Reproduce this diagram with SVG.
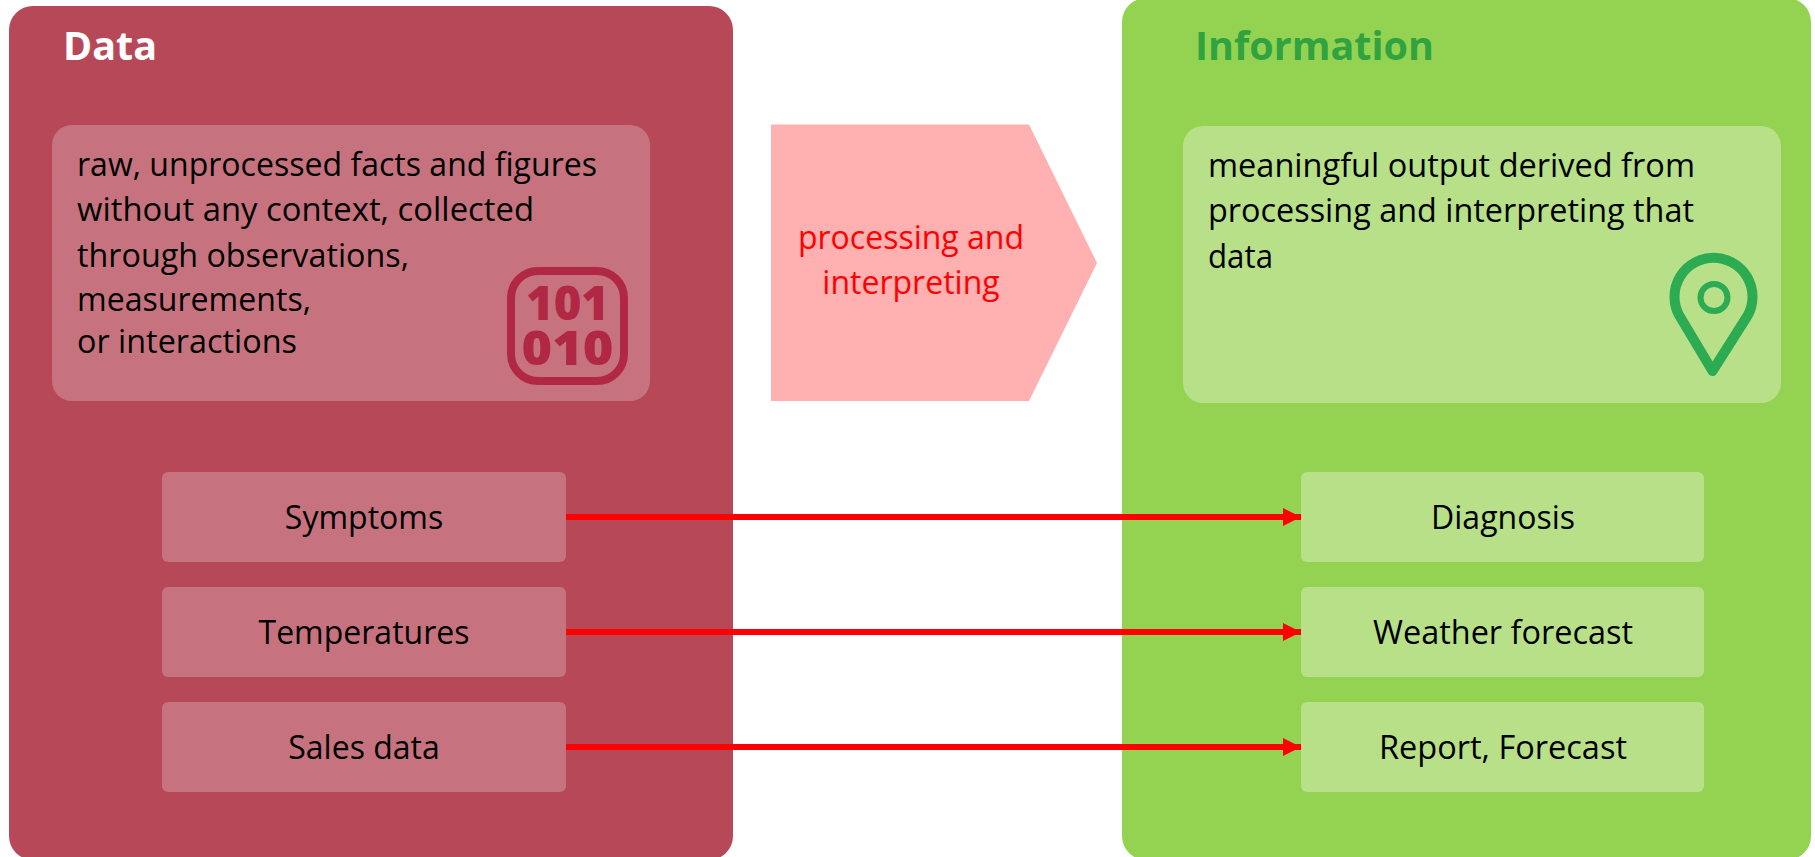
<svg xmlns="http://www.w3.org/2000/svg" width="1815" height="857" viewBox="0 0 1815 857">
<style>
text{font-family:"Open Sans","Noto Sans","Liberation Sans",sans-serif;font-size:32px;fill:#000}
.t{font-size:39.5px;font-weight:700}
.c{text-anchor:middle}
.ri{fill:#c7737f}
.gi{fill:#b7e088}
.lnk{stroke:#f00;stroke-width:6;fill:none;marker-end:url(#ah)}
.b{font-weight:800;font-size:47px;fill:#b12845;text-anchor:middle}
</style>
<defs><marker id="ah" markerUnits="userSpaceOnUse" markerWidth="18" markerHeight="18" refX="18" refY="9" orient="auto"><path d="M0 0L18 9L0 18Z" fill="#f00"/></marker></defs>
<rect width="1815" height="857" fill="#fff"/>
<g id="data-panel">
<rect x="9" y="6" width="724" height="854" rx="24" fill="#b74857"/>
<text class="t" x="63" y="60" style="fill:#fff">Data</text>
<rect class="ri" x="52" y="125" width="598" height="276" rx="20"/>
<text x="77" y="176" textLength="520" lengthAdjust="spacingAndGlyphs">raw, unprocessed facts and figures</text>
<text x="77" y="221" textLength="457" lengthAdjust="spacingAndGlyphs">without any context, collected</text>
<text x="77" y="267" textLength="332" lengthAdjust="spacingAndGlyphs">through observations,</text>
<text x="77" y="311" textLength="234" lengthAdjust="spacingAndGlyphs">measurements,</text>
<text x="77" y="353" textLength="220" lengthAdjust="spacingAndGlyphs">or interactions</text>
<g id="binary-icon"><rect x="511" y="271" width="113" height="110" rx="27" fill="none" stroke="#b12845" stroke-width="8"/>
<text class="b"><tspan x="567.5" y="320" textLength="83" lengthAdjust="spacingAndGlyphs">101</tspan><tspan x="567.5" y="365" textLength="92" lengthAdjust="spacingAndGlyphs">010</tspan></text></g>
</g>
<g id="information-panel">
<rect x="1122" y="-2" width="689" height="862" rx="24" fill="#93d351"/>
<text class="t" x="1195" y="60" style="fill:#30a340">Information</text>
<rect class="gi" x="1183" y="126" width="598" height="277" rx="20"/>
<text x="1208" y="177" textLength="487" lengthAdjust="spacingAndGlyphs">meaningful output derived from</text>
<text x="1208" y="222" textLength="486" lengthAdjust="spacingAndGlyphs">processing and interpreting that</text>
<text x="1208" y="268" textLength="65" lengthAdjust="spacingAndGlyphs">data</text>
<g id="pin-icon" fill="none" stroke="#2cab52"><path d="M1712.5 371L1679 315A39 39 0 1 1 1748 315Z" stroke-width="10" stroke-linejoin="round"/><circle cx="1714" cy="297.5" r="13.5" stroke-width="6"/></g>
</g>
<g id="process-arrow">
<path d="M771 124.500H1029L1097 263L1029 401H771Z" fill="#ffb0b0"/>
<text class="c" x="911" y="249" style="fill:#f00">processing and</text>
<text class="c" x="911" y="294" style="fill:#f00">interpreting</text>
</g>
<g id="n-symptoms"><rect class="ri" x="162" y="472" width="404" height="90" rx="6"/><text class="c" x="364" y="529">Symptoms</text></g>
<g id="n-temperatures"><rect class="ri" x="162" y="587" width="404" height="90" rx="6"/><text class="c" x="364" y="644">Temperatures</text></g>
<g id="n-sales"><rect class="ri" x="162" y="702" width="404" height="90" rx="6"/><text class="c" x="364" y="759">Sales data</text></g>
<g id="n-diagnosis"><rect class="gi" x="1301" y="472" width="403" height="90" rx="6"/><text class="c" x="1503" y="529">Diagnosis</text></g>
<g id="n-weather"><rect class="gi" x="1301" y="587" width="403" height="90" rx="6"/><text class="c" x="1503" y="644" textLength="260" lengthAdjust="spacingAndGlyphs">Weather forecast</text></g>
<g id="n-report"><rect class="gi" x="1301" y="702" width="403" height="90" rx="6"/><text class="c" x="1503" y="759" textLength="248" lengthAdjust="spacingAndGlyphs">Report, Forecast</text></g>
<g id="connectors">
<path class="lnk" d="M566 517H1301"/>
<path class="lnk" d="M566 632H1301"/>
<path class="lnk" d="M566 747H1301"/>
</g>
</svg>
